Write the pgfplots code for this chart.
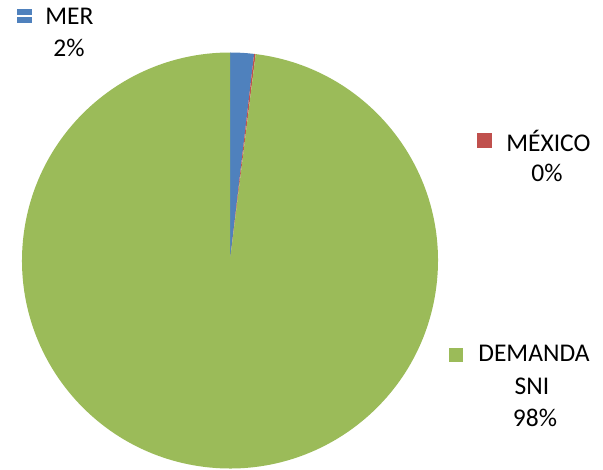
\documentclass[border=0pt]{standalone}
\usepackage{pgfplots}
\usepackage{pgfplotstable}
\pgfplotsset{compat=1.18}
\usepackage{fontspec}
\setmainfont{Carlito}
\definecolor{pieblue}{HTML}{4F81BD}
\definecolor{piered}{HTML}{C0504D}
\definecolor{piegreen}{HTML}{9BBB59}
\pgfplotstableread{
name value
MER 1.85
MEXICO 0.12
DEMANDA 98.03
}\piedata
\pgfplotstablegetelem{0}{value}\of\piedata
\pgfmathsetmacro\angA{90-3.6*\pgfplotsretval}
\pgfplotstablegetelem{1}{value}\of\piedata
\pgfmathsetmacro\angB{\angA-3.6*\pgfplotsretval}
\pgfplotstablegetelem{2}{value}\of\piedata
\pgfmathsetmacro\angC{\angB-3.6*\pgfplotsretval}
\begin{document}
\fontsize{15.3}{18}\selectfont
\begin{tikzpicture}
\path[use as bounding box] (0pt,0pt) rectangle (361.8pt,281.4pt);
\begin{scope}
\clip (0pt,0pt) rectangle (361.8pt,281.4pt);
\begin{axis}[at={(138pt,125.1pt)},anchor=center,scale only axis,width=249.6pt,height=249.6pt,
  xmin=-1,xmax=1,ymin=-1,ymax=1,hide axis,clip=false]
\addplot[draw=none] coordinates {(0,0)};
\fill[pieblue] (axis cs:0,0) -- ++(90:124.8pt) arc[start angle=90, end angle=\angA, radius=124.8pt] -- cycle;
\fill[piered] (axis cs:0,0) -- ++(\angA:124.8pt) arc[start angle=\angA, end angle=\angB, radius=124.8pt] -- cycle;
\fill[piegreen] (axis cs:0,0) -- ++(\angB:124.8pt) arc[start angle=\angB, end angle=\angC, radius=124.8pt] -- cycle;
\end{axis}
% labels
\fill[pieblue] (10.2pt,276pt) rectangle (19.2pt,272.4pt);
\fill[pieblue] (10.2pt,271.2pt) rectangle (19.2pt,267.6pt);
\node[anchor=base west,inner sep=0pt] at (27pt,266.4pt) {MER};
\node[anchor=base,inner sep=0pt] at (41.4pt,247.2pt) {2\%};
\fill[piered] (286.2pt,201.6pt) rectangle (295.2pt,192.6pt);
\node[anchor=base west,inner sep=0pt] at (303.6pt,190.2pt) {MÉXICO};
\node[anchor=base,inner sep=0pt] at (328.2pt,172.2pt) {0\%};
\fill[piegreen] (269.4pt,72.6pt) rectangle (277.8pt,64.2pt);
\node[anchor=base west,inner sep=0pt] at (286.8pt,64.2pt) {DEMANDA};
\node[anchor=base,inner sep=0pt] at (319.2pt,44.4pt) {SNI};
\node[anchor=base,inner sep=0pt] at (321pt,25.2pt) {98\%};
\end{scope}
\end{tikzpicture}
\end{document}
